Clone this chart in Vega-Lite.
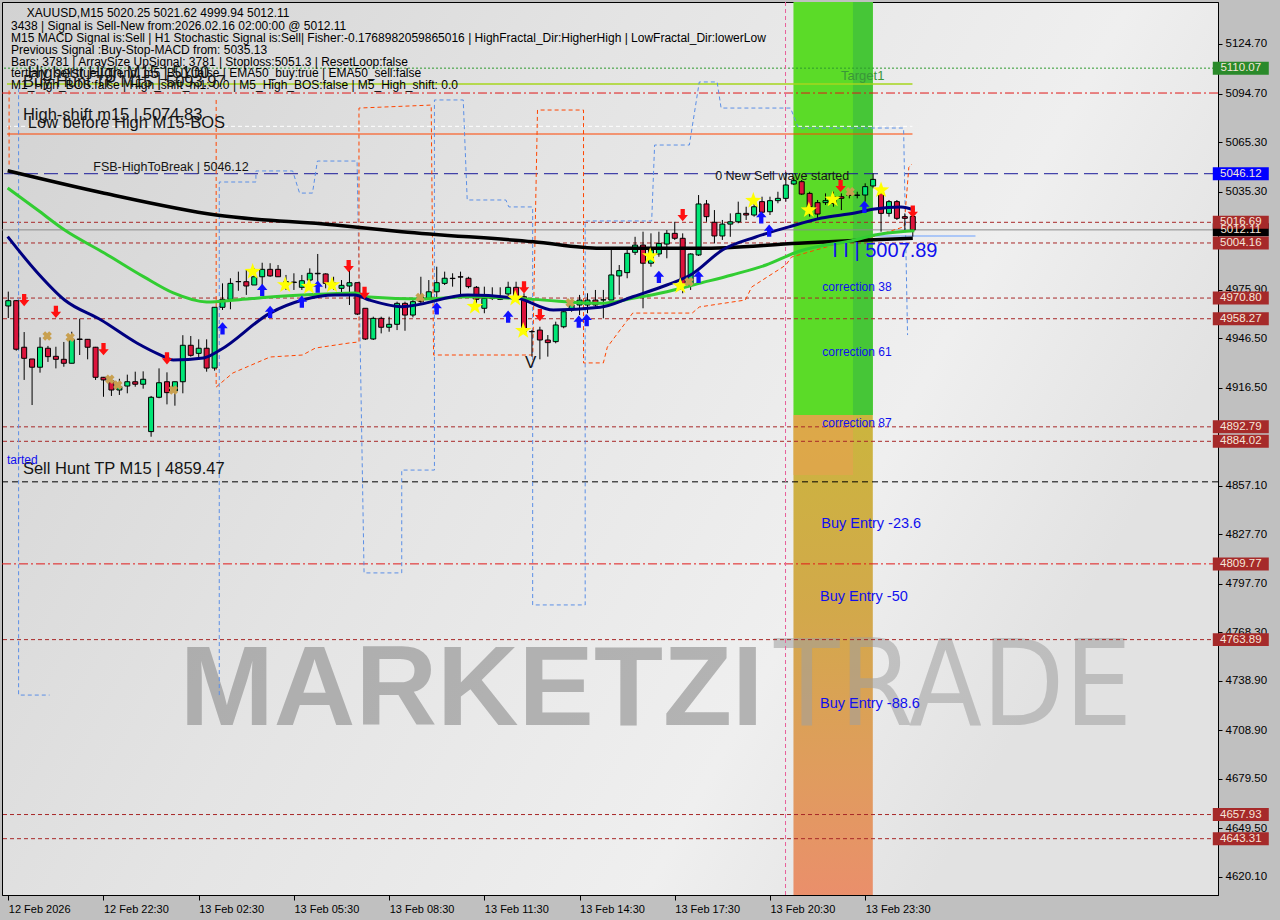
{
"$schema":"https://vega.github.io/schema/vega-lite/v6.json",
"width":1216,"height":893,
"autosize":{"type":"none"},
"padding":{"left":2,"top":2,"right":62,"bottom":25},
"background":"#c0c0c0",
"config":{"view":{"stroke":"#000000","strokeWidth":1,"fill":{"gradient":"linear","x1":0,"y1":0,"x2":1,"y2":0.4,"stops":[{"offset":0,"color":"#d2d2d2"},{"offset":0.45,"color":"#e4e4e4"},{"offset":0.8,"color":"#efefef"},{"offset":1,"color":"#e2e2e2"}]}},"text":{"font":"Liberation Sans"}},
"datasets":{
"candles":[
{"i":0,"o":4966.0,"h":4974.7,"l":4958.7,"c":4969.2},{"i":1,"o":4969.2,"h":4969.6,"l":4938.9,"c":4939.8},{"i":2,"o":4941.0,"h":4950.2,"l":4921.2,"c":4934.3},{"i":3,"o":4933.9,"h":4933.9,"l":4906.0,"c":4928.9},{"i":4,"o":4928.9,"h":4947.0,"l":4925.6,"c":4941.0},{"i":5,"o":4940.4,"h":4941.8,"l":4932.1,"c":4935.3},{"i":6,"o":4935.5,"h":4941.3,"l":4928.2,"c":4933.7},{"i":7,"o":4933.7,"h":4944.2,"l":4929.2,"c":4931.3},{"i":8,"o":4931.3,"h":4950.4,"l":4931.3,"c":4945.8},{"i":9,"o":4946.0,"h":4958.3,"l":4936.3,"c":4945.7},
{"i":10,"o":4945.8,"h":4946.0,"l":4933.7,"c":4941.0},{"i":11,"o":4941.0,"h":4941.2,"l":4921.2,"c":4922.8},{"i":12,"o":4922.8,"h":4923.0,"l":4911.0,"c":4921.2},{"i":13,"o":4920.7,"h":4922.8,"l":4911.5,"c":4915.1},{"i":14,"o":4915.1,"h":4921.9,"l":4912.1,"c":4917.1},{"i":15,"o":4917.5,"h":4924.4,"l":4913.1,"c":4920.1},{"i":16,"o":4920.1,"h":4926.2,"l":4917.1,"c":4918.6},{"i":17,"o":4918.6,"h":4926.4,"l":4915.9,"c":4921.6},{"i":18,"o":4889.9,"h":4911.5,"l":4886.8,"c":4910.7},{"i":19,"o":4910.7,"h":4928.2,"l":4910.1,"c":4919.5},
{"i":20,"o":4920.1,"h":4925.8,"l":4906.4,"c":4913.5},{"i":21,"o":4914.5,"h":4920.1,"l":4905.6,"c":4920.1},{"i":22,"o":4920.1,"h":4948.3,"l":4913.1,"c":4942.2},{"i":23,"o":4942.2,"h":4947.8,"l":4935.3,"c":4936.1},{"i":24,"o":4937.3,"h":4945.8,"l":4933.7,"c":4940.4},{"i":25,"o":4940.4,"h":4945.8,"l":4926.2,"c":4928.4},{"i":26,"o":4928.4,"h":4965.2,"l":4926.8,"c":4965.2},{"i":27,"o":4965.2,"h":4979.7,"l":4963.6,"c":4970.0},{"i":28,"o":4970.0,"h":4982.8,"l":4964.0,"c":4979.7},{"i":29,"o":4980.7,"h":4986.8,"l":4975.2,"c":4980.8},
{"i":30,"o":4980.7,"h":4987.8,"l":4972.7,"c":4978.1},{"i":31,"o":4978.7,"h":4988.8,"l":4978.7,"c":4983.7},{"i":32,"o":4983.7,"h":4992.2,"l":4978.7,"c":4988.2},{"i":33,"o":4988.2,"h":4991.9,"l":4983.7,"c":4984.2},{"i":34,"o":4988.2,"h":4990.8,"l":4983.7,"c":4983.7},{"i":35,"o":4978.7,"h":4984.8,"l":4975.7,"c":4980.7},{"i":36,"o":4980.2,"h":4985.8,"l":4975.7,"c":4980.5},{"i":37,"o":4977.3,"h":4984.8,"l":4975.7,"c":4981.3},{"i":38,"o":4981.7,"h":4988.8,"l":4977.7,"c":4985.8},{"i":39,"o":4985.8,"h":4997.5,"l":4979.7,"c":4985.5},
{"i":40,"o":4985.4,"h":4985.8,"l":4976.7,"c":4979.7},{"i":41,"o":4979.7,"h":4983.7,"l":4975.7,"c":4979.9},{"i":42,"o":4976.7,"h":4981.7,"l":4973.7,"c":4978.5},{"i":43,"o":4978.1,"h":4988.8,"l":4966.6,"c":4980.1},{"i":44,"o":4980.1,"h":4980.1,"l":4960.5,"c":4961.1},{"i":45,"o":4964.6,"h":4964.6,"l":4945.4,"c":4946.0},{"i":46,"o":4946.0,"h":4959.5,"l":4945.4,"c":4958.5},{"i":47,"o":4958.5,"h":4959.5,"l":4949.4,"c":4953.1},{"i":48,"o":4953.1,"h":4959.5,"l":4950.4,"c":4954.9},{"i":49,"o":4954.9,"h":4968.6,"l":4951.4,"c":4967.6},
{"i":50,"o":4967.6,"h":4968.6,"l":4951.0,"c":4960.5},{"i":51,"o":4960.5,"h":4970.0,"l":4959.1,"c":4968.6},{"i":52,"o":4971.6,"h":4983.7,"l":4967.6,"c":4968.6},{"i":53,"o":4970.6,"h":4981.7,"l":4970.0,"c":4974.6},{"i":54,"o":4974.6,"h":4989.8,"l":4970.6,"c":4980.1},{"i":55,"o":4979.7,"h":4986.8,"l":4978.7,"c":4982.8},{"i":56,"o":4982.8,"h":4985.8,"l":4977.7,"c":4982.6},{"i":57,"o":4983.7,"h":4986.8,"l":4972.7,"c":4983.5},{"i":58,"o":4982.8,"h":4983.7,"l":4976.7,"c":4977.7},{"i":59,"o":4977.3,"h":4978.1,"l":4967.6,"c":4970.0},
{"i":60,"o":4964.6,"h":4977.7,"l":4961.6,"c":4970.6},{"i":61,"o":4970.6,"h":4977.3,"l":4969.6,"c":4970.5},{"i":62,"o":4970.0,"h":4977.3,"l":4969.6,"c":4971.6},{"i":63,"o":4973.3,"h":4980.7,"l":4971.6,"c":4977.3},{"i":64,"o":4977.3,"h":4980.7,"l":4969.6,"c":4969.6},{"i":65,"o":4971.6,"h":4973.7,"l":4949.4,"c":4950.4},{"i":66,"o":4950.4,"h":4951.4,"l":4935.3,"c":4950.5},{"i":67,"o":4951.4,"h":4953.4,"l":4933.7,"c":4945.4},{"i":68,"o":4945.4,"h":4948.4,"l":4935.3,"c":4943.8},{"i":69,"o":4944.4,"h":4956.5,"l":4943.4,"c":4954.5},
{"i":70,"o":4953.4,"h":4963.6,"l":4952.5,"c":4962.5},{"i":71,"o":4963.6,"h":4969.6,"l":4962.5,"c":4966.6},{"i":72,"o":4966.6,"h":4972.7,"l":4960.5,"c":4969.6},{"i":73,"o":4966.6,"h":4973.7,"l":4961.6,"c":4969.6},{"i":74,"o":4969.6,"h":4975.7,"l":4965.6,"c":4966.6},{"i":75,"o":4969.6,"h":4975.7,"l":4958.5,"c":4969.8},{"i":76,"o":4969.6,"h":5000.9,"l":4969.6,"c":4984.8},{"i":77,"o":4984.2,"h":4990.8,"l":4972.7,"c":4987.4},{"i":78,"o":4986.2,"h":5000.9,"l":4982.8,"c":4997.9},{"i":79,"o":4998.5,"h":5007.9,"l":4996.9,"c":5002.9},
{"i":80,"o":5002.9,"h":5011.0,"l":4964.6,"c":4991.9},{"i":81,"o":4991.9,"h":5010.0,"l":4989.8,"c":4999.9},{"i":82,"o":4997.5,"h":5011.0,"l":4995.8,"c":5003.9},{"i":83,"o":5003.5,"h":5012.0,"l":4994.9,"c":5010.0},{"i":84,"o":5010.0,"h":5017.0,"l":5006.0,"c":5007.0},{"i":85,"o":5007.0,"h":5010.0,"l":4973.7,"c":4978.7},{"i":86,"o":4978.7,"h":4997.9,"l":4975.7,"c":4997.5},{"i":87,"o":4996.9,"h":5033.2,"l":4996.3,"c":5027.8},{"i":88,"o":5027.8,"h":5030.2,"l":5017.0,"c":5020.1},{"i":89,"o":5016.7,"h":5024.1,"l":5003.9,"c":5008.4},
{"i":90,"o":5008.4,"h":5018.1,"l":5006.0,"c":5015.6},{"i":91,"o":5015.6,"h":5022.1,"l":5007.9,"c":5017.0},{"i":92,"o":5017.0,"h":5029.2,"l":5016.1,"c":5022.1},{"i":93,"o":5022.1,"h":5026.1,"l":5018.1,"c":5021.1},{"i":94,"o":5021.1,"h":5028.2,"l":5020.1,"c":5026.1},{"i":95,"o":5029.2,"h":5032.2,"l":5019.1,"c":5022.8},{"i":96,"o":5023.1,"h":5032.2,"l":5021.1,"c":5029.8},{"i":97,"o":5029.8,"h":5035.2,"l":5028.2,"c":5031.2},{"i":98,"o":5031.2,"h":5047.3,"l":5029.2,"c":5039.3},{"i":99,"o":5039.9,"h":5044.3,"l":5039.3,"c":5041.9},
{"i":100,"o":5041.3,"h":5042.3,"l":5033.2,"c":5033.8},{"i":101,"o":5034.2,"h":5035.2,"l":5020.1,"c":5026.1},{"i":102,"o":5028.6,"h":5030.2,"l":5019.1,"c":5021.7},{"i":103,"o":5028.6,"h":5034.2,"l":5027.2,"c":5029.8},{"i":104,"o":5028.2,"h":5035.2,"l":5026.1,"c":5032.2},{"i":105,"o":5032.2,"h":5034.2,"l":5024.1,"c":5031.2},{"i":106,"o":5033.2,"h":5035.2,"l":5031.2,"c":5033.0},{"i":107,"o":5033.2,"h":5035.2,"l":5031.2,"c":5033.0},{"i":108,"o":5033.2,"h":5040.3,"l":5029.2,"c":5038.3},{"i":109,"o":5038.7,"h":5046.3,"l":5037.3,"c":5042.7},
{"i":110,"o":5034.2,"h":5037.3,"l":5011.0,"c":5022.1},{"i":111,"o":5022.1,"h":5030.2,"l":5020.1,"c":5029.2},{"i":112,"o":5029.2,"h":5030.2,"l":5018.1,"c":5019.1},{"i":113,"o":5020.1,"h":5022.1,"l":5012.0,"c":5019.1},{"i":114,"o":5020.25,"h":5021.62,"l":5008.0,"c":5012.11}
],
"ema200":[{"i":-0.08,"p":5047.9},{"i":12.1,"p":5034.3},{"i":26.2,"p":5021.1},{"i":41.2,"p":5015.1},{"i":49.6,"p":5011.0},{"i":66.2,"p":5004.9},{"i":74.6,"p":5000.9},{"i":87.1,"p":5000.9},{"i":99.6,"p":5004.0},{"i":106.7,"p":5005.6},{"i":114.0,"p":5007.0}],
"ema50":[{"i":-0.08,"p":5037.5},{"i":3.7,"p":5024.1},{"i":7.1,"p":5012.0},{"i":12.1,"p":4998.1},{"i":17.1,"p":4983.6},{"i":20.8,"p":4973.9},{"i":25.0,"p":4968.4},{"i":28.7,"p":4969.6},{"i":33.0,"p":4971.4},{"i":37.1,"p":4972.6},{"i":43.7,"p":4973.9},{"i":45.5,"p":4971.4},{"i":52.1,"p":4970.2},{"i":57.9,"p":4971.6},{"i":66.2,"p":4970.0},{"i":74.6,"p":4967.6},{"i":78.7,"p":4970.6},{"i":83.0,"p":4974.6},{"i":87.1,"p":4979.7},{"i":91.2,"p":4984.8},{"i":95.5,"p":4990.8},{"i":99.6,"p":4999.0},{"i":106.7,"p":5006.0},{"i":109.2,"p":5009.0},{"i":112.5,"p":5011.0},{"i":114.2,"p":5011.6}],
"ema20":[{"i":-0.08,"p":5008.0},{"i":3.7,"p":4986.0},{"i":7.1,"p":4969.6},{"i":11.7,"p":4957.5},{"i":16.2,"p":4943.6},{"i":19.2,"p":4936.3},{"i":20.8,"p":4933.3},{"i":24.6,"p":4934.5},{"i":26.7,"p":4939.3},{"i":33.0,"p":4961.7},{"i":37.1,"p":4969.6},{"i":41.2,"p":4972.6},{"i":43.7,"p":4972.6},{"i":45.5,"p":4969.6},{"i":49.6,"p":4965.6},{"i":57.9,"p":4972.6},{"i":64.2,"p":4970.6},{"i":68.7,"p":4963.6},{"i":74.6,"p":4965.2},{"i":78.7,"p":4971.6},{"i":83.0,"p":4978.7},{"i":86.2,"p":4985.4},{"i":90.0,"p":4999.9},{"i":94.2,"p":5007.8},{"i":98.3,"p":5013.8},{"i":102.5,"p":5019.3},{"i":106.7,"p":5022.3},{"i":109.2,"p":5024.7},{"i":112.5,"p":5025.9},{"i":114.2,"p":5024.1}],
"marks":[
{"i":2.0,"p":4969.6,"k":"down"},{"i":6.0,"p":4962.5,"k":"down"},{"i":12.0,"p":4939.8,"k":"down"},{"i":20.0,"p":4934.3,"k":"down"},{"i":42.9,"p":4990.2,"k":"down"},{"i":44.9,"p":4974.0,"k":"down"},{"i":65.0,"p":4977.3,"k":"down"},{"i":67.0,"p":4960.5,"k":"down"},{"i":85.0,"p":5021.1,"k":"down"},{"i":104.9,"p":5038.7,"k":"down"},{"i":114.0,"p":5023.1,"k":"down"},
{"i":27.0,"p":4952.5,"k":"up"},{"i":32.0,"p":4975.7,"k":"up"},{"i":33.0,"p":4962.5,"k":"up"},{"i":37.0,"p":4968.6,"k":"up"},{"i":39.0,"p":4977.7,"k":"up"},{"i":54.0,"p":4964.6,"k":"up"},{"i":63.0,"p":4959.5,"k":"up"},{"i":71.9,"p":4956.5,"k":"up"},{"i":72.9,"p":4957.5,"k":"up"},{"i":82.0,"p":4983.7,"k":"up"},{"i":87.0,"p":4983.7,"k":"up"},{"i":94.9,"p":5019.7,"k":"up"},{"i":95.9,"p":5011.6,"k":"up"},{"i":107.9,"p":5026.1,"k":"up"},
{"i":30.8,"p":4986.8,"k":"star"},{"i":34.9,"p":4978.7,"k":"star"},{"i":37.9,"p":4977.7,"k":"star"},{"i":40.8,"p":4978.7,"k":"star"},{"i":58.8,"p":4965.6,"k":"star"},{"i":63.9,"p":4970.6,"k":"star"},{"i":64.9,"p":4951.0,"k":"star"},{"i":80.9,"p":4996.3,"k":"star"},{"i":84.7,"p":4978.1,"k":"star"},{"i":93.9,"p":5029.8,"k":"star"},{"i":100.9,"p":5024.1,"k":"star"},{"i":103.9,"p":5030.6,"k":"star"},{"i":110.0,"p":5036.2,"k":"star"},
{"i":4.9,"p":4947.8,"k":"x"},{"i":7.8,"p":4947.0,"k":"x"},{"i":12.8,"p":4921.6,"k":"x"},{"i":13.8,"p":4918.1,"k":"x"},{"i":20.8,"p":4915.1,"k":"x"},{"i":51.9,"p":4971.2,"k":"x"},{"i":70.8,"p":4968.0,"k":"x"},{"i":85.8,"p":4980.7,"k":"x"},{"i":106.1,"p":5035.2,"k":"x"}
],
"boxes":[
{"p":5012.11,"lab":"5012.11","k":"price"},
{"p":5110.07,"lab":"5110.07","k":"target"},
{"p":5046.12,"lab":"5046.12","k":"fsb"},
{"p":5016.69,"lab":"5016.69","k":"level"},{"p":5004.16,"lab":"5004.16","k":"level"},{"p":4970.80,"lab":"4970.80","k":"level"},{"p":4958.27,"lab":"4958.27","k":"level"},{"p":4892.79,"lab":"4892.79","k":"level"},{"p":4884.02,"lab":"4884.02","k":"level"},{"p":4809.77,"lab":"4809.77","k":"level"},{"p":4763.89,"lab":"4763.89","k":"level"},{"p":4657.93,"lab":"4657.93","k":"level"},{"p":4643.31,"lab":"4643.31","k":"level"}
]
},
"layer":[
{"data":{"values":[{"a":98.96,"b":108.96,"lo":4900,"hi":5150.14}]},"mark":{"type":"rect","fill":"#5bdb28"},
 "encoding":{"x":{"field":"a","type":"quantitative","scale":{"domain":[-0.1625,151.8375],"nice":false,"zero":false},
   "axis":{"orient":"bottom","values":[0,12,24,36,48,60,72,84,96,108],"labelExpr":"['12 Feb 2026','12 Feb 22:30','13 Feb 02:30','13 Feb 05:30','13 Feb 08:30','13 Feb 11:30','13 Feb 14:30','13 Feb 17:30','13 Feb 20:30','13 Feb 23:30'][round(datum.value/12)]","labelAlign":"left","labelFont":"Liberation Sans","labelFontSize":11,"labelColor":"#000000","labelPadding":3,"tickSize":5,"tickColor":"#000000","domainColor":"#000000","grid":false,"title":null,"labelOverlap":false,"labelFlush":false}},
  "x2":{"field":"b"},
  "y":{"field":"lo","type":"quantitative","scale":{"domain":[4609.19,5150.14],"nice":false,"zero":false},
   "axis":{"orient":"right","values":[5124.7,5094.7,5065.3,5035.3,4975.9,4946.5,4916.5,4857.1,4827.7,4797.7,4768.3,4738.9,4708.9,4679.5,4649.5,4620.1],"format":".2f","labelFont":"Liberation Sans","labelFontSize":11.5,"labelColor":"#000000","labelPadding":3,"tickSize":4,"tickColor":"#000000","domainColor":"#000000","grid":false,"title":null,"labelOverlap":false,"labelFlush":false}},
  "y2":{"field":"hi"}}},
{"data":{"values":[{"a":106.46,"b":108.96,"lo":4900,"hi":5150.14}]},"mark":{"type":"rect","fill":"#46c637"},
 "encoding":{"x":{"field":"a","type":"quantitative"},"x2":{"field":"b"},"y":{"field":"lo","type":"quantitative"},"y2":{"field":"hi"}}},
{"data":{"values":[{"a":98.96,"b":108.96,"lo":4609.19,"hi":4900}]},"mark":{"type":"rect","fill":{"gradient":"linear","x1":0,"y1":0,"x2":0,"y2":1,"stops":[{"offset":0,"color":"#cbb53e"},{"offset":0.4,"color":"#d2a94a"},{"offset":0.75,"color":"#e09c5e"},{"offset":1,"color":"#ea8f6b"}]}},
 "encoding":{"x":{"field":"a","type":"quantitative"},"x2":{"field":"b"},"y":{"field":"lo","type":"quantitative"},"y2":{"field":"hi"}}},
{"data":{"values":[{"a":98.96,"b":106.46,"lo":4863.6,"hi":4900}]},"mark":{"type":"rect","fill":"#e8a050","opacity":0.6},
 "encoding":{"x":{"field":"a","type":"quantitative"},"x2":{"field":"b"},"y":{"field":"lo","type":"quantitative"},"y2":{"field":"hi"}}},
{"data":{"values":[{"i":21.6,"p":4712.17,"t":"MARKETZI"}]},"mark":{"type":"text","align":"left","baseline":"alphabetic","fontSize":113,"fontWeight":"bold","color":"#8c8c8c","opacity":0.6},
 "encoding":{"x":{"field":"i","type":"quantitative"},"y":{"field":"p","type":"quantitative"},"text":{"field":"t"}}},
{"data":{"values":[{"i":96.5,"p":4712.17,"t":"TRADE"}]},"mark":{"type":"text","align":"left","baseline":"alphabetic","fontSize":119,"fontWeight":"normal","font":"Liberation Sans Narrow, DejaVu Sans Condensed, Liberation Sans","color":"#a0a0a0","opacity":0.55},
 "encoding":{"x":{"field":"i","type":"quantitative"},"y":{"field":"p","type":"quantitative"},"text":{"field":"t"}}},
{"data":{"values":[{"p":5016.69},{"p":5004.16},{"p":4970.80},{"p":4958.27},{"p":4892.79},{"p":4884.02},{"p":4763.89},{"p":4657.93},{"p":4643.31}]},"mark":{"type":"rule","color":"#a82828","strokeDash":[4,3],"strokeWidth":1},
 "encoding":{"y":{"field":"p","type":"quantitative"}}},
{"data":{"values":[{"p":5095.0},{"p":4809.77}]},"mark":{"type":"rule","color":"#e01818","strokeDash":[9,3,2,3],"strokeWidth":1},
 "encoding":{"y":{"field":"p","type":"quantitative"}}},
{"data":{"values":[{"p":5110.07}]},"mark":{"type":"rule","color":"#2e9a2e","strokeDash":[2,2],"strokeWidth":1},"encoding":{"y":{"field":"p","type":"quantitative"}}},
{"data":{"values":[{"p":5046.12}]},"mark":{"type":"rule","color":"#1a1a9a","strokeDash":[14,6],"strokeWidth":1},"encoding":{"y":{"field":"p","type":"quantitative"}}},
{"data":{"values":[{"p":4859.47}]},"mark":{"type":"rule","color":"#000000","strokeDash":[6,4],"strokeWidth":1},"encoding":{"y":{"field":"p","type":"quantitative"}}},
{"data":{"values":[{"p":5012.11}]},"mark":{"type":"rule","color":"#8c8c8c","strokeWidth":1},"encoding":{"y":{"field":"p","type":"quantitative"}}},
{"data":{"values":[{"p":5100.47}]},"mark":{"type":"rule","color":"#a6d61e","strokeWidth":1.5},"encoding":{"y":{"field":"p","type":"quantitative"},"x":{"datum":-0.16,"type":"quantitative"},"x2":{"datum":113.96}}},
{"data":{"values":[{"p":5070.18}]},"mark":{"type":"rule","color":"#ff4500","strokeWidth":1.2},"encoding":{"y":{"field":"p","type":"quantitative"},"x":{"datum":-0.16,"type":"quantitative"},"x2":{"datum":113.96}}},
{"data":{"values":[{"p":5074.83}]},"mark":{"type":"rule","color":"#ffffff","strokeDash":[4,3],"strokeWidth":1},"encoding":{"y":{"field":"p","type":"quantitative"},"x":{"datum":-0.16,"type":"quantitative"},"x2":{"datum":113.96}}},
{"data":{"values":[{"p":5008.4}]},"mark":{"type":"rule","color":"#6aa0ff","strokeWidth":1.2},"encoding":{"y":{"field":"p","type":"quantitative"},"x":{"datum":108.96,"type":"quantitative"},"x2":{"datum":121.9}}},
{"data":{"values":[{"i":97.96}]},"mark":{"type":"rule","color":"#e8609a","strokeDash":[4,3],"strokeWidth":1},"encoding":{"x":{"field":"i","type":"quantitative"}}},
{"data":{"values":[
{"k":1,"i":1.3,"p":5097.9},{"k":2,"i":1.3,"p":4730.3},{"k":3,"i":5.2,"p":4730.3}]},
 "mark":{"type":"line","color":"#5b8fe6","strokeDash":[4,3],"strokeWidth":1,"interpolate":"linear"},
 "encoding":{"x":{"field":"i","type":"quantitative"},"y":{"field":"p","type":"quantitative"},"order":{"field":"k"}}},
{"data":{"values":[
{"k":1,"i":26.59,"p":4730.3},{"k":2,"i":26.59,"p":5041.1},{"k":3,"i":31.21,"p":5041.1},{"k":4,"i":31.21,"p":5047.8},{"k":5,"i":35.84,"p":5047.8},{"k":6,"i":36.71,"p":5034.4},{"k":7,"i":38.34,"p":5034.4},{"k":8,"i":38.96,"p":5053.8},{"k":9,"i":43.96,"p":5053.8},{"k":10,"i":44.84,"p":4804.3},{"k":11,"i":49.59,"p":4804.3},{"k":12,"i":49.59,"p":4866.6},{"k":13,"i":53.71,"p":4866.6},{"k":14,"i":53.71,"p":5090.8},{"k":15,"i":57.34,"p":5090.8},{"k":16,"i":57.84,"p":5030.2},{"k":17,"i":62.71,"p":5030.2},{"k":18,"i":63.09,"p":5026.0},{"k":19,"i":66.09,"p":5026.0},{"k":20,"i":66.09,"p":4784.9},{"k":21,"i":72.71,"p":4784.9},{"k":22,"i":72.71,"p":5017.5},{"k":23,"i":81.09,"p":5017.5},{"k":24,"i":81.46,"p":5063.5},{"k":25,"i":85.84,"p":5063.5},{"k":26,"i":87.09,"p":5101.7},{"k":27,"i":89.34,"p":5101.7},{"k":28,"i":89.84,"p":5085.9},{"k":29,"i":98.59,"p":5085.9},{"k":30,"i":99.59,"p":5073.8},{"k":31,"i":112.84,"p":5073.8},{"k":32,"i":113.34,"p":4948.4}]},
 "mark":{"type":"line","color":"#5b8fe6","strokeDash":[4,3],"strokeWidth":1,"interpolate":"linear"},
 "encoding":{"x":{"field":"i","type":"quantitative"},"y":{"field":"p","type":"quantitative"},"order":{"field":"k"}}},
{"data":{"values":[
{"k":1,"i":0.1,"p":5096.5},{"k":2,"i":0.1,"p":5050.0}]},
 "mark":{"type":"line","color":"#ff4500","strokeDash":[4,3],"strokeWidth":1,"interpolate":"linear"},
 "encoding":{"x":{"field":"i","type":"quantitative"},"y":{"field":"p","type":"quantitative"},"order":{"field":"k"}}},
{"data":{"values":[
{"k":1,"i":26.2,"p":5090.8},{"k":2,"i":26.2,"p":4916.9},{"k":3,"i":28.3,"p":4925.4},{"k":4,"i":33.0,"p":4935.1},{"k":5,"i":37.1,"p":4936.3},{"k":6,"i":38.7,"p":4940.5},{"k":7,"i":43.0,"p":4943.6},{"k":8,"i":44.2,"p":4944.2},{"k":9,"i":44.2,"p":5085.9},{"k":10,"i":53.3,"p":5087.7},{"k":11,"i":53.6,"p":4936.3},{"k":12,"i":66.1,"p":4936.3},{"k":13,"i":66.7,"p":5084.7},{"k":14,"i":72.5,"p":5084.7},{"k":15,"i":72.5,"p":4931.5},{"k":16,"i":75.0,"p":4931.5},{"k":17,"i":75.5,"p":4941.1},{"k":18,"i":78.7,"p":4961.7},{"k":19,"i":86.2,"p":4961.7},{"k":20,"i":87.1,"p":4965.4},{"k":21,"i":92.9,"p":4969.6},{"k":22,"i":93.7,"p":4977.5},{"k":23,"i":98.0,"p":4990.8},{"k":24,"i":98.7,"p":4995.6},{"k":25,"i":104.0,"p":5003.0},{"k":26,"i":109.0,"p":5008.0},{"k":27,"i":112.9,"p":5014.0},{"k":28,"i":113.5,"p":5050.0},{"k":29,"i":113.9,"p":5052.0}]},
 "mark":{"type":"line","color":"#ff4500","strokeDash":[4,3],"strokeWidth":1,"interpolate":"linear"},
 "encoding":{"x":{"field":"i","type":"quantitative"},"y":{"field":"p","type":"quantitative"},"order":{"field":"k"}}},
{"data":{"name":"candles"},"mark":{"type":"rule","color":"#000000","strokeWidth":1},
 "encoding":{"x":{"field":"i","type":"quantitative"},"y":{"field":"l","type":"quantitative"},"y2":{"field":"h"}}},
{"data":{"name":"candles"},"mark":{"type":"bar","width":5,"stroke":"#000000","strokeWidth":1},
 "encoding":{"x":{"field":"i","type":"quantitative"},"y":{"field":"o","type":"quantitative"},"y2":{"field":"c"},
  "color":{"condition":{"test":"datum.c >= datum.o","value":"#00e676"},"value":"#dc143c"}}},
{"data":{"name":"ema200"},"mark":{"type":"line","color":"#000000","strokeWidth":3.5,"interpolate":"monotone"},"encoding":{"x":{"field":"i","type":"quantitative"},"y":{"field":"p","type":"quantitative"}}},
{"data":{"name":"ema50"},"mark":{"type":"line","color":"#32cd32","strokeWidth":3,"interpolate":"monotone"},"encoding":{"x":{"field":"i","type":"quantitative"},"y":{"field":"p","type":"quantitative"}}},
{"data":{"name":"ema20"},"mark":{"type":"line","color":"#000080","strokeWidth":3,"interpolate":"monotone"},"encoding":{"x":{"field":"i","type":"quantitative"},"y":{"field":"p","type":"quantitative"}}},
{"data":{"name":"marks"},"transform":[{"filter":"datum.k == 'down'"}],"mark":{"type":"point","shape":"M-0.35,-1L0.35,-1L0.35,0L0.85,0L0,1L-0.85,0L-0.35,0Z","filled":true,"color":"#ff1010","size":150,"opacity":1},
 "encoding":{"x":{"field":"i","type":"quantitative"},"y":{"field":"p","type":"quantitative"}}},
{"data":{"name":"marks"},"transform":[{"filter":"datum.k == 'up'"}],"mark":{"type":"point","shape":"M-0.35,1L0.35,1L0.35,0L0.85,0L0,-1L-0.85,0L-0.35,0Z","filled":true,"color":"#1010ff","size":150,"opacity":1},
 "encoding":{"x":{"field":"i","type":"quantitative"},"y":{"field":"p","type":"quantitative"}}},
{"data":{"name":"marks"},"transform":[{"filter":"datum.k == 'star'"}],"mark":{"type":"point","shape":"M0,-1L0.235,-0.324L0.951,-0.309L0.38,0.124L0.588,0.809L0,0.4L-0.588,0.809L-0.38,0.124L-0.951,-0.309L-0.235,-0.324Z","filled":true,"color":"#ffff00","size":300,"opacity":1},
 "encoding":{"x":{"field":"i","type":"quantitative"},"y":{"field":"p","type":"quantitative"}}},
{"data":{"name":"marks"},"transform":[{"filter":"datum.k == 'x'"}],"mark":{"type":"point","shape":"cross","angle":45,"filled":true,"color":"#c8a050","size":90,"opacity":1},
 "encoding":{"x":{"field":"i","type":"quantitative"},"y":{"field":"p","type":"quantitative"}}},
{"data":{"values":[
{"i":2.34,"p":5143.66,"t":"XAUUSD,M15  5020.25 5021.62 4999.94 5012.11"},
{"i":0.34,"p":5135.78,"t":"3438 | Signal is Sell-New from:2026.02.16 02:00:00 @ 5012.11"},
{"i":0.34,"p":5128.51,"t":"M15 MACD Signal is:Sell | H1 Stochastic Signal is:Sell| Fisher:-0.1768982059865016 | HighFractal_Dir:HigherHigh | LowFractal_Dir:lowerLow"},
{"i":0.34,"p":5121.07,"t":"Previous Signal :Buy-Stop-MACD from: 5035.13"},
{"i":0.34,"p":5113.61,"t":"Bars: 3781 | ArraySize UpSignal: 3781 | Stoploss:5051.3 | ResetLoop:false"},
{"i":0.34,"p":5106.95,"t":"tertiary_sell:true | Trend_m5_BUY:false | EMA50_buy:true | EMA50_sell:false"},
{"i":0.34,"p":5099.68,"t":"M1_High_BOS:false | High_shift_m1: 0.0 | M5_High_BOS:false | M5_High_shift: 0.0"}]},
 "mark":{"type":"text","align":"left","baseline":"middle","fontSize":12,"color":"#000000"},
 "encoding":{"x":{"field":"i","type":"quantitative"},"y":{"field":"p","type":"quantitative"},"text":{"field":"t"}}},
{"data":{"values":[
{"i":2.46,"p":5107.1,"t":"Highest High M15 | 5100"},
{"i":1.84,"p":5101.7,"t":"Buy Hunt TP M15 | 5093.97"},
{"i":1.84,"p":5081.7,"t":"High-shift m15 | 5074.83"},
{"i":2.46,"p":5077.0,"t":"Low before High   M15-BOS"},
{"i":1.84,"p":4867.2,"t":"Sell Hunt TP M15 | 4859.47"}]},
 "mark":{"type":"text","align":"left","baseline":"middle","fontSize":16.5,"color":"#141414"},
 "encoding":{"x":{"field":"i","type":"quantitative"},"y":{"field":"p","type":"quantitative"},"text":{"field":"t"}}},
{"data":{"values":[{"i":10.71,"p":5050.4,"t":"FSB-HighToBreak | 5046.12"},{"i":89.09,"p":5044.7,"t":"0 New Sell wave started"}]},
 "mark":{"type":"text","align":"left","baseline":"middle","fontSize":12.5,"color":"#141414"},
 "encoding":{"x":{"field":"i","type":"quantitative"},"y":{"field":"p","type":"quantitative"},"text":{"field":"t"}}},
{"data":{"values":[{"i":65.84,"p":4931.5,"t":"V"}]},"mark":{"type":"text","align":"center","baseline":"middle","fontSize":17,"color":"#141414"},
 "encoding":{"x":{"field":"i","type":"quantitative"},"y":{"field":"p","type":"quantitative"},"text":{"field":"t"}}},
{"data":{"values":[{"i":104.96,"p":5105.3,"t":"Target1"}]},"mark":{"type":"text","align":"left","baseline":"middle","fontSize":13,"color":"#3a963a"},
 "encoding":{"x":{"field":"i","type":"quantitative"},"y":{"field":"p","type":"quantitative"},"text":{"field":"t"}}},
{"data":{"values":[{"i":-0.16,"p":4872.7,"t":"tarted"},{"i":102.59,"p":4977.5,"t":"correction 38"},{"i":102.59,"p":4938.1,"t":"correction 61"},{"i":102.59,"p":4895.1,"t":"correction 87"}]},
 "mark":{"type":"text","align":"left","baseline":"middle","fontSize":12,"color":"#1010ee"},
 "encoding":{"x":{"field":"i","type":"quantitative"},"y":{"field":"p","type":"quantitative"},"text":{"field":"t"}}},
{"data":{"values":[{"i":102.46,"p":4833.9,"t":"Buy Entry -23.6"},{"i":102.3,"p":4789.7,"t":"Buy Entry -50"},{"i":102.3,"p":4724.9,"t":"Buy Entry -88.6"}]},
 "mark":{"type":"text","align":"left","baseline":"middle","fontSize":14.5,"color":"#1010ee"},
 "encoding":{"x":{"field":"i","type":"quantitative"},"y":{"field":"p","type":"quantitative"},"text":{"field":"t"}}},
{"data":{"values":[{"i":103.84,"p":4999.3,"t":"I I | 5007.89"}]},"mark":{"type":"text","align":"left","baseline":"middle","fontSize":20,"color":"#1010ee"},
 "encoding":{"x":{"field":"i","type":"quantitative"},"y":{"field":"p","type":"quantitative"},"text":{"field":"t"}}},
{"data":{"name":"boxes"},"mark":{"type":"point","shape":"M-1,-0.232L1,-0.232L1,0.232L-1,0.232Z","filled":true,"size":3136,"opacity":1},
 "encoding":{"x":{"datum":155.34,"type":"quantitative"},"y":{"field":"p","type":"quantitative"},
  "color":{"field":"k","type":"nominal","legend":null,"scale":{"domain":["price","target","fsb","level"],"range":["#000000","#2a8a2a","#0000ff","#a62a2a"]}}}},
{"data":{"name":"boxes"},"mark":{"type":"text","align":"center","baseline":"middle","fontSize":11.5,"color":"#f4e6da"},
 "encoding":{"x":{"datum":155.34,"type":"quantitative"},"y":{"field":"p","type":"quantitative"},"text":{"field":"lab"}}}
]
}
